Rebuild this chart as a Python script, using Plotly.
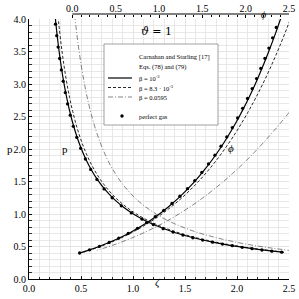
import plotly.graph_objects as go

# ---------------- data ----------------
# perfect gas, p over zeta (dots)
zeta_pg_dec = [0.255, 0.267, 0.280, 0.295, 0.311, 0.329, 0.349, 0.371, 0.397, 0.426,
               0.459, 0.497, 0.542, 0.593, 0.653, 0.722, 0.800, 0.888, 0.984, 1.087,
               1.195, 1.29, 1.385, 1.48, 1.575, 1.67, 1.765, 1.86, 1.955, 2.05,
               2.145, 2.24, 2.335, 2.43]
p_pg_dec = [3.92, 3.744, 3.568, 3.392, 3.217, 3.042, 2.868, 2.694, 2.521, 2.349,
            2.179, 2.011, 1.846, 1.686, 1.532, 1.386, 1.25, 1.126, 1.016, 0.92,
            0.837, 0.775, 0.722, 0.676, 0.635, 0.599, 0.567, 0.538, 0.512, 0.488,
            0.466, 0.446, 0.428, 0.412]
# perfect gas, p over phi (dots)
phi_pg_inc = [0.084, 0.199, 0.313, 0.425, 0.536, 0.645, 0.752, 0.856, 0.957, 1.055,
              1.150, 1.241, 1.329, 1.413, 1.494, 1.571, 1.645, 1.715, 1.782, 1.846,
              1.907, 1.965, 2.021, 2.075, 2.126, 2.175, 2.222, 2.268, 2.311, 2.353]
p_pg_inc = [0.400, 0.449, 0.503, 0.563, 0.629, 0.701, 0.780, 0.866, 0.958, 1.057,
            1.162, 1.273, 1.390, 1.512, 1.639, 1.770, 1.905, 2.044, 2.186, 2.330,
            2.477, 2.626, 2.777, 2.930, 3.084, 3.239, 3.395, 3.553, 3.711, 3.870]

# beta = 1e-3 (solid)
zeta_b1 = [0.25, 0.254, 0.27, 0.29, 0.31, 0.33, 0.36, 0.39, 0.42, 0.46, 0.5, 0.55, 0.6,
           0.66, 0.72, 0.8, 0.9, 1.0, 1.1, 1.25, 1.4, 1.6, 1.8, 2.0, 2.2, 2.45, 2.5]
p_b1 = [4.064, 4.000, 3.759, 3.496, 3.268, 3.067, 2.809, 2.590, 2.404, 2.193, 2.016,
        1.831, 1.678, 1.524, 1.397, 1.256, 1.116, 1.004, 0.912, 0.803, 0.716, 0.627,
        0.557, 0.501, 0.455, 0.409, 0.401]
phi_b1 = [2.418, 2.402, 2.339, 2.265, 2.197, 2.133, 2.044, 1.962, 1.887, 1.794, 1.709,
          1.612, 1.524, 1.428, 1.340, 1.233, 1.114, 1.008, 0.912, 0.783, 0.670, 0.535,
          0.416, 0.311, 0.216, 0.107, 0.087]

# beta = 8.3e-3 (dashed)
zeta_b2 = [0.27, 0.282, 0.29, 0.31, 0.33, 0.36, 0.39, 0.42, 0.46, 0.5, 0.55, 0.6, 0.66,
           0.72, 0.8, 0.9, 1.0, 1.1, 1.25, 1.4, 1.6, 1.8, 2.0, 2.2, 2.45, 2.5]
p_b2 = [4.196, 3.996, 3.873, 3.595, 3.355, 3.049, 2.794, 2.579, 2.338, 2.138, 1.932,
        1.762, 1.594, 1.455, 1.303, 1.153, 1.034, 0.937, 0.822, 0.7315, 0.638, 0.566,
        0.508, 0.4615, 0.4137, 0.4054]
phi_b2 = [2.570, 2.515, 2.480, 2.397, 2.320, 2.215, 2.119, 2.032, 1.926, 1.830, 1.722,
          1.624, 1.519, 1.423, 1.308, 1.181, 1.067, 0.966, 0.831, 0.711, 0.572, 0.449,
          0.340, 0.242, 0.131, 0.110]

# beta = 0.0595 (dash-dot)
zeta_b3 = [0.42, 0.433, 0.45, 0.47, 0.5, 0.53, 0.56, 0.6, 0.65, 0.7, 0.76, 0.83, 0.9,
           1.0, 1.1, 1.25, 1.4, 1.6, 1.8, 2.0, 2.2, 2.35, 2.5]
p_b3 = [4.364, 4.151, 3.902, 3.642, 3.309, 3.030, 2.792, 2.526, 2.255, 2.036, 1.821,
        1.621, 1.460, 1.278, 1.135, 0.972, 0.850, 0.727, 0.636, 0.564, 0.507, 0.472, 0.441]
phi_b3 = [3.388, 3.297, 3.187, 3.068, 2.906, 2.763, 2.633, 2.479, 2.310, 2.162, 2.006,
          1.847, 1.708, 1.535, 1.385, 1.195, 1.033, 0.850, 0.694, 0.559, 0.439, 0.358, 0.283]

tick_vals = [0.0, 0.5, 1.0, 1.5, 2.0, 2.5]
tick_text_x = ["0.0", "0.5", "1.0", "1.5", "2.0", "2.5"]
tick_vals_y = [0.0, 0.5, 1.0, 1.5, 2.0, 2.5, 3.0, 3.5, 4.0]
tick_text_y = ["0.0", "0.5", "1.0", "1.5", "2.0", "2.5", "3.0", "3.5", "4.0"]
phi_minor = [round(0.1 * i, 1) for i in range(1, 25) if i % 5 != 0]

legend_title = ["Carnahan and Starling [17]", "Eqs. (78) and (79)"]
legend_names = ["β = 10<sup>-3</sup>", "β = 8.3 · 10<sup>-3</sup>", "β = 0.0595", "perfect gas"]

FONT = "Liberation Serif"
GRID = "#e2e2e2"

# plot area in pixels: x 29..289, y 14..279 (paper)
def PX(X):
    return (X - 29) / 260.0

def PY(Y):
    return (279 - Y) / 265.0

fig = go.Figure()

def add_pair(zeta, phi, p, dec_n, dash, width, color):
    fig.add_trace(go.Scatter(x=zeta[:dec_n], y=p[:dec_n], mode="lines", showlegend=False,
                             line=dict(color=color, width=width, dash=dash, shape="spline"),
                             xaxis="x", yaxis="y", hoverinfo="skip"))
    fig.add_trace(go.Scatter(x=phi, y=p, mode="lines", showlegend=False,
                             line=dict(color=color, width=width, dash=dash, shape="spline"),
                             xaxis="x2", yaxis="y", hoverinfo="skip"))

STY = [("solid", 1.2, "#000000"), ("3px,2px", 0.9, "#111111"), ("5px,2px,1px,2px", 0.6, "#333333")]

add_pair(zeta_b3, phi_b3, p_b3, len(zeta_b3), *STY[2])
add_pair(zeta_b2, phi_b2, p_b2, len(zeta_b2) - 1, *STY[1])
add_pair(zeta_b1, phi_b1, p_b1, len(zeta_b1) - 1, *STY[0])

fig.add_trace(go.Scatter(x=zeta_pg_dec, y=p_pg_dec, mode="markers", showlegend=False,
                         marker=dict(color="black", size=3.3), xaxis="x", yaxis="y",
                         hoverinfo="skip"))
fig.add_trace(go.Scatter(x=phi_pg_inc, y=p_pg_inc, mode="markers", showlegend=False,
                         marker=dict(color="black", size=3.3), xaxis="x2", yaxis="y",
                         hoverinfo="skip"))

axis_common = dict(ticks="inside", ticklen=3, tickcolor="black", tickwidth=0.8,
                   showline=True, linecolor="black", linewidth=1, zeroline=False,
                   showgrid=True, gridcolor=GRID, gridwidth=0.8, automargin=False,
                   tickfont=dict(family=FONT, size=10, color="black"))

# ---- manual legend ----
shapes = [
    dict(type="line", xref="x2", yref="paper", x0=0, x1=2.5, y0=1, y1=1,
         line=dict(color="black", width=1)),
    dict(type="rect", xref="paper", yref="paper", x0=PX(104), x1=PX(218), y0=PY(125), y1=PY(44),
         line=dict(color="#888888", width=0.8), fillcolor="white", layer="above"),
]
annotations = []
for i, t in enumerate(legend_title):
    annotations.append(dict(text=t, xref="paper", yref="paper", x=PX(137), y=PY(57 + 10 * i),
                            xanchor="left", yanchor="middle", showarrow=False,
                            font=dict(family=FONT, size=6.5, color="black")))
for i, (nm, (dash, w, col)) in enumerate(zip(legend_names[:3], STY)):
    yy = 78 + 9.5 * i
    shapes.append(dict(type="line", xref="paper", yref="paper", x0=PX(108), x1=PX(132),
                       y0=PY(yy), y1=PY(yy), layer="above",
                       line=dict(color=col, width=w, dash=dash)))
    annotations.append(dict(text=nm, xref="paper", yref="paper", x=PX(137), y=PY(yy),
                            xanchor="left", yanchor="middle", showarrow=False,
                            font=dict(family=FONT, size=6.5, color="black")))
shapes.append(dict(type="circle", xref="paper", yref="paper", x0=PX(120.3), x1=PX(123.7),
                   y0=PY(117.7), y1=PY(114.3), fillcolor="black", line=dict(width=0),
                   layer="above"))
annotations.append(dict(text=legend_names[3], xref="paper", yref="paper", x=PX(137), y=PY(116),
                        xanchor="left", yanchor="middle", showarrow=False,
                        font=dict(family=FONT, size=6.5, color="black")))

txt = dict(family=FONT, size=11, color="black")
annotations += [
    dict(text="<i>ϑ</i> = 1", xref="paper", yref="paper", x=PX(156), y=PY(32),
         yanchor="middle", showarrow=False, font=dict(family="DejaVu Serif", size=11, color="black")),
    dict(text="p", xref="paper", yref="paper", x=PX(60), y=PY(149), showarrow=False, font=txt),
    dict(text="<i>ϕ</i>", xref="paper", yref="paper", x=PX(236), y=PY(148),
         showarrow=False, font=txt),
    dict(text="p", xref="paper", yref="paper", x=PX(5), y=PY(149), showarrow=False, font=txt),
    dict(text="<i>ζ</i>", xref="paper", yref="paper", x=PX(158), y=PY(291),
         showarrow=False, font=txt),
    dict(text="<i>ϕ</i>", xref="paper", yref="paper", x=PX(268), y=PY(7),
         showarrow=False, font=dict(family=FONT, size=10, color="black")),
]

fig.update_layout(
    width=299, height=299,
    margin=dict(l=29, r=10, t=14, b=20),
    paper_bgcolor="white", plot_bgcolor="white",
    showlegend=False, hovermode=False,
    xaxis=dict(range=[0, 2.5], tickmode="array", tickvals=tick_vals, ticktext=tick_text_x,
               minor=dict(dtick=0.1, ticks="inside", ticklen=2.5, tickcolor="black",
                          showgrid=True, gridcolor=GRID, gridwidth=0.8),
               **axis_common),
    yaxis=dict(range=[0, 4], domain=[0, 260 / 265], tickmode="array", tickvals=tick_vals_y,
               ticktext=tick_text_y,
               minor=dict(dtick=0.1, ticks="inside", ticklen=2.5, tickcolor="black",
                          showgrid=True, gridcolor=GRID, gridwidth=0.8),
               **axis_common),
    # fine sub-ticks on the bottom and left axes
    xaxis3=dict(range=[0, 2.5], overlaying="x", anchor="y", side="bottom", dtick=0.02, tick0=0,
                ticks="inside", ticklen=1.5, tickwidth=0.6, tickcolor="black",
                showticklabels=False, showgrid=False, zeroline=False, showline=False,
                automargin=False),
    yaxis2=dict(range=[0, 4], overlaying="y", anchor="x", side="left", dtick=0.025, tick0=0,
                ticks="inside", ticklen=1.5, tickwidth=0.6, tickcolor="black",
                showticklabels=False, showgrid=False, zeroline=False, showline=False,
                automargin=False),
    xaxis2=dict(range=[-0.5, 2.5], overlaying="x", side="top", anchor="free", position=1,
                tickmode="array", tickvals=tick_vals, ticktext=tick_text_x,
                ticks="inside", ticklen=3, tickcolor="black", showline=False,
                showgrid=False, zeroline=False, automargin=False,
                minor=dict(tickmode="array", tickvals=phi_minor, ticks="inside", ticklen=2,
                           tickcolor="black", showgrid=False),
                tickfont=dict(family=FONT, size=10, color="black")),
    shapes=shapes,
    annotations=annotations,
)

fig.write_html("out.html", config={"displayModeBar": False, "staticPlot": True},
               post_script="document.body.style.margin='0';")
